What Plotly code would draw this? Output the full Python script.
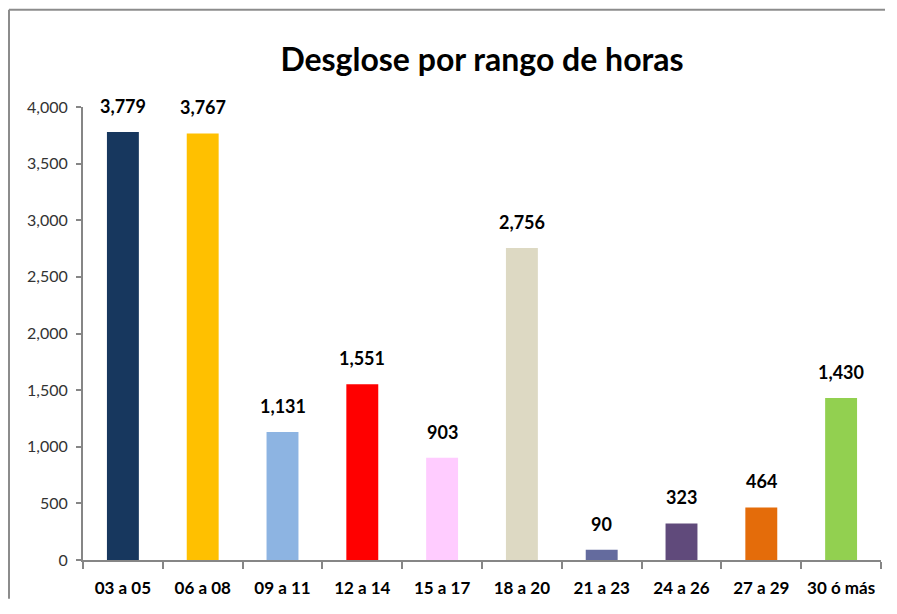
import plotly.graph_objects as go

categories = ["03 a 05", "06 a 08", "09 a 11", "12 a 14", "15 a 17",
              "18 a 20", "21 a 23", "24 a 26", "27 a 29", "30 ó más"]
values = [3779, 3767, 1131, 1551, 903, 2756, 90, 323, 464, 1430]
colors = ["#17375E", "#FFC000", "#8DB4E2", "#FF0000", "#FFCCFF",
          "#DDD9C3", "#646B9E", "#604A7B", "#E46C0A", "#92D050"]

FONT = "Lato, Open Sans, sans-serif"

# page body has an 8px margin, so the figure is sized to fit inside the window
W, H = 879, 596
L, R, T, B = 75, 6, 99, 41
pw, ph = W - L - R, H - T - B

fig = go.Figure(go.Bar(
    x=categories, y=values, marker=dict(color=colors, line=dict(width=0)),
    width=0.4, hoverinfo="x+y",
))

for c, v in zip(categories, values):
    fig.add_annotation(x=c, y=v, text=f"<b>{v:,}</b>", showarrow=False,
                       yanchor="bottom", yshift=13,
                       font=dict(family=FONT, size=18, color="#000000"))

frame_x = (1 - L) / pw
frame_y = (H - B - 1) / ph
fig.update_layout(
    width=W, height=H,
    margin=dict(l=L, r=R, t=T, b=B),
    paper_bgcolor="white", plot_bgcolor="white",
    title=dict(text="<b>Desglose por rango de horas</b>", x=474 / W, xanchor="center",
               y=1 - 52 / H, yanchor="middle",
               font=dict(family=FONT, size=32, color="#000000")),
    showlegend=False,
    xaxis=dict(showline=True, linecolor="#868686", linewidth=2,
               ticks="outside", tickson="boundaries", ticklen=7, tickcolor="#868686", tickwidth=2,
               tickfont=dict(family=FONT, size=17, color="#000000"),
               tickprefix="<b>", ticksuffix="</b>", showgrid=False,
               ticklabelstandoff=12),
    yaxis=dict(range=[0, 4000], dtick=500, tickformat=",",
               showline=True, linecolor="#868686", linewidth=2,
               ticks="outside", ticklen=5, tickcolor="#868686", tickwidth=2,
               tickfont=dict(family=FONT, size=16, color="#333333"),
               showgrid=False, zeroline=False, ticklabelstandoff=5),
    shapes=[
        dict(type="line", xref="paper", yref="paper",
             x0=frame_x, x1=(W - 2 - L) / pw, y0=frame_y, y1=frame_y,
             line=dict(color="#8C8C8C", width=2), layer="below"),
        dict(type="line", xref="paper", yref="paper",
             x0=frame_x, x1=frame_x, y0=-(B - 2) / ph, y1=frame_y,
             line=dict(color="#8C8C8C", width=2), layer="below"),
    ],
)

fig.write_html("out.html")
